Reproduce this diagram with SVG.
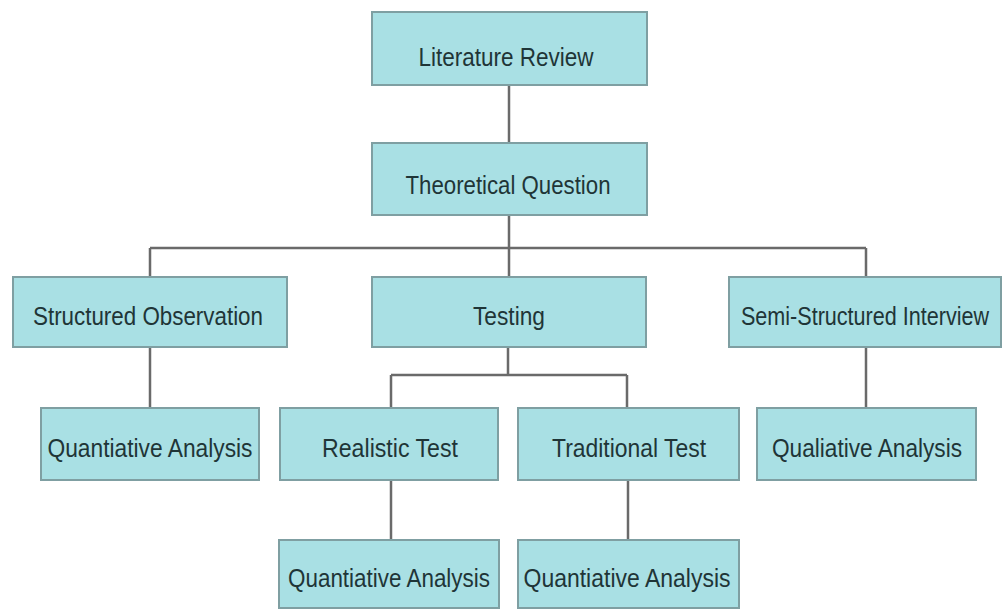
<svg xmlns="http://www.w3.org/2000/svg" width="1004" height="612" viewBox="0 0 1004 612">
<style>
.box{fill:#a9e0e4;stroke:#7f9fa2;stroke-width:2}
.lbl{font-family:"Liberation Sans",Arial,sans-serif;font-size:26px;fill:#1f3537;text-anchor:middle}
.con{fill:none;stroke:#6a6a6a;stroke-width:2.5}
</style>
<rect width="1004" height="612" fill="#ffffff"/>
<g id="connectors">
<path class="con" d="M509 85 V143"/>
<path class="con" d="M509 215 V248 M150 248 H866 M150 248 V277 M509 248 V277 M866 248 V277"/>
<path class="con" d="M150 347 V408"/>
<path class="con" d="M866 347 V408"/>
<path class="con" d="M508 347 V375 M391 375 H627 M391 375 V408 M627 375 V408"/>
<path class="con" d="M391 480 V540"/>
<path class="con" d="M628 480 V540"/>
</g>
<g id="literature-review"><rect class="box" x="372" y="12" width="275" height="73"/><text class="lbl" x="506" y="66" textLength="175" lengthAdjust="spacingAndGlyphs">Literature Review</text></g>
<g id="theoretical-question"><rect class="box" x="372" y="143" width="275" height="72"/><text class="lbl" x="508" y="194" textLength="205" lengthAdjust="spacingAndGlyphs">Theoretical Question</text></g>
<g id="structured-observation"><rect class="box" x="13" y="277" width="274" height="70"/><text class="lbl" x="148" y="325" textLength="230" lengthAdjust="spacingAndGlyphs">Structured Observation</text></g>
<g id="testing"><rect class="box" x="372" y="277" width="274" height="70"/><text class="lbl" x="509" y="325" textLength="72" lengthAdjust="spacingAndGlyphs">Testing</text></g>
<g id="semi-structured-interview"><rect class="box" x="729" y="277" width="272" height="70"/><text class="lbl" transform="translate(865,325) scale(0.83,1)" x="0" y="0">Semi-Structured Interview</text></g>
<g id="quantiative-analysis-1"><rect class="box" x="41" y="408" width="218" height="72"/><text class="lbl" x="150" y="457" textLength="205" lengthAdjust="spacingAndGlyphs">Quantiative Analysis</text></g>
<g id="realistic-test"><rect class="box" x="280" y="408" width="218" height="72"/><text class="lbl" x="390" y="457" textLength="136" lengthAdjust="spacingAndGlyphs">Realistic Test</text></g>
<g id="traditional-test"><rect class="box" x="518" y="408" width="221" height="72"/><text class="lbl" x="629" y="457" textLength="154" lengthAdjust="spacingAndGlyphs">Traditional Test</text></g>
<g id="qualiative-analysis"><rect class="box" x="757" y="408" width="219" height="72"/><text class="lbl" x="867" y="457" textLength="190" lengthAdjust="spacingAndGlyphs">Qualiative Analysis</text></g>
<g id="quantiative-analysis-2"><rect class="box" x="279" y="540" width="220" height="68"/><text class="lbl" x="389" y="587" textLength="202" lengthAdjust="spacingAndGlyphs">Quantiative Analysis</text></g>
<g id="quantiative-analysis-3"><rect class="box" x="518" y="540" width="221" height="68"/><text class="lbl" x="627" y="587" textLength="207" lengthAdjust="spacingAndGlyphs">Quantiative Analysis</text></g>
</svg>
